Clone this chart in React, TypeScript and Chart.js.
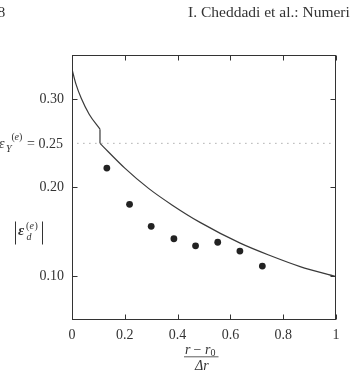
import React, { useEffect, useRef } from "react";
import { Chart, registerables } from "chart.js";

Chart.register(...registerables);

// ---- data ----
const xTickValues = [0, 0.2, 0.4, 0.6, 0.8, 1];
const yTickValues = [0.1, 0.2, 0.3];
const yieldThreshold = 0.25;
const thresholdX = [0.02, 1];

const upperX = [0, 0.015, 0.035, 0.065, 0.106];
const upperY = [0.334, 0.317, 0.301, 0.283, 0.266];
const jumpX = [0.106, 0.106];
const jumpY = [0.266, 0.25];
const lowerX = [0.106, 0.2, 0.29, 0.38, 0.485, 0.637, 0.75, 0.864, 1.0];
const lowerY = [0.25, 0.222, 0.199, 0.18, 0.1605, 0.137, 0.123, 0.1105, 0.099];
const dotX = [0.132, 0.218, 0.3, 0.386, 0.468, 0.552, 0.636, 0.721];
const dotY = [0.222, 0.181, 0.156, 0.142, 0.134, 0.138, 0.128, 0.111];

const headerPage = "8";
const headerTitle = "I. Cheddadi et al.: Numeri";

const SERIF = '"Liberation Serif", "DejaVu Serif", serif';
const INK = "#333";

const zip = (xs: number[], ys: number[]) => xs.map((x, i) => ({ x, y: ys[i] }));

const decorPlugin = {
  id: "decor",
  afterDraw(chart: any) {
    const ctx = chart.ctx as CanvasRenderingContext2D;
    const { left, right, top, bottom } = chart.chartArea;
    const xs = chart.scales.x;
    const ys = chart.scales.y;
    ctx.save();
    ctx.strokeStyle = INK;
    ctx.lineWidth = 1;
    // frame
    const L = Math.round(left) + 0.5, R = Math.round(right) - 0.5;
    const T = Math.round(top) + 0.5, B = Math.round(bottom) - 0.5;
    ctx.strokeRect(L, T, R - L, B - T);
    // inward ticks on all sides
    const tl = 5;
    ctx.beginPath();
    xTickValues.forEach((v) => {
      const px = Math.round(xs.getPixelForValue(v)) + 0.5;
      ctx.moveTo(px, B); ctx.lineTo(px, B - tl);
      ctx.moveTo(px, T); ctx.lineTo(px, T + tl);
    });
    yTickValues.forEach((v) => {
      const py = Math.round(ys.getPixelForValue(v)) + 0.5;
      ctx.moveTo(L, py); ctx.lineTo(L + tl, py);
      ctx.moveTo(R, py); ctx.lineTo(R - tl, py);
    });
    ctx.stroke();

    ctx.fillStyle = INK;
    ctx.textAlign = "left";
    ctx.textBaseline = "alphabetic";

    // header
    ctx.font = `15.5px ${SERIF}`;
    ctx.fillText(headerPage, -2.5, 16.5);
    ctx.fillText(headerTitle, 188, 16.5);

    // threshold label  eps_Y^(e) = 0.25
    const yThr = ys.getPixelForValue(yieldThreshold);
    const base = yThr + 5;
    ctx.font = `italic 14px ${SERIF}`;
    ctx.fillText("\u03B5", -1, base);
    ctx.font = `italic 10px ${SERIF}`;
    ctx.fillText("Y", 6, base + 3.5);
    ctx.font = `10px ${SERIF}`;
    ctx.fillText("(", 11.5, base - 8.5);
    ctx.font = `italic 10px ${SERIF}`;
    ctx.fillText("e", 14.5, base - 8.5);
    ctx.font = `10px ${SERIF}`;
    ctx.fillText(")", 19, base - 8.5);
    ctx.font = `14px ${SERIF}`;
    ctx.fillText("= " + yieldThreshold.toFixed(2), 27, base);

    // y title |eps_d^(e)|
    ctx.beginPath();
    ctx.moveTo(15.5, 221.5); ctx.lineTo(15.5, 244.5);
    ctx.moveTo(42.5, 221.5); ctx.lineTo(42.5, 244.5);
    ctx.stroke();
    ctx.font = `bold italic 15px ${SERIF}`;
    ctx.fillText("\u03B5", 18, 235);
    ctx.font = `italic 10px ${SERIF}`;
    ctx.fillText("d", 26.5, 239.5);
    ctx.font = `10px ${SERIF}`;
    ctx.fillText("(", 26, 228.5);
    ctx.font = `italic 10px ${SERIF}`;
    ctx.fillText("e", 29.5, 228.5);
    ctx.font = `10px ${SERIF}`;
    ctx.fillText(")", 34.5, 228.5);

    // x title (r - r0) / Δr
    ctx.font = `italic 14px ${SERIF}`;
    ctx.fillText("r", 185, 353.5);
    ctx.font = `14px ${SERIF}`;
    ctx.fillText("\u2212", 193.5, 353.5);
    ctx.font = `italic 14px ${SERIF}`;
    ctx.fillText("r", 205, 353.5);
    ctx.font = `10px ${SERIF}`;
    ctx.fillText("0", 210.5, 355.5);
    ctx.lineWidth = 0.8;
    ctx.beginPath();
    ctx.moveTo(184, 356.8); ctx.lineTo(218.5, 356.8);
    ctx.stroke();
    ctx.font = `italic 14px ${SERIF}`;
    ctx.fillText("\u0394r", 195, 370);
    ctx.restore();
  },
};

export default function App() {
  const ref = useRef<HTMLCanvasElement | null>(null);
  useEffect(() => {
    if (!ref.current) return;
    const lineBase = {
      showLine: true,
      pointRadius: 0,
      borderColor: "#3a3a3a",
      borderWidth: 1.2,
      fill: false,
    };
    const chart = new Chart(ref.current, {
      type: "scatter",
      data: {
        datasets: [
          {
            ...lineBase,
            data: zip(thresholdX, thresholdX.map(() => yieldThreshold)),
            borderColor: "#999",
            borderWidth: 1,
            borderDash: [1.2, 4.8],
          },
          { ...lineBase, data: zip(upperX, upperY), cubicInterpolationMode: "monotone" },
          { ...lineBase, data: zip(jumpX, jumpY) },
          { ...lineBase, data: zip(lowerX, lowerY), cubicInterpolationMode: "monotone" },
          {
            data: zip(dotX, dotY),
            showLine: false,
            pointRadius: 3.4,
            pointBackgroundColor: "#222",
            pointBorderColor: "#222",
            pointBorderWidth: 0,
          },
        ] as any,
      },
      options: {
        responsive: false,
        animation: false,
        events: [],
        layout: { padding: { left: 0, top: 55, right: 14, bottom: 0 } },
        plugins: { legend: { display: false }, tooltip: { enabled: false } },
        scales: {
          x: {
            type: "linear",
            min: 0,
            max: 1,
            afterBuildTicks: (s: any) => {
              s.ticks = xTickValues.map((v) => ({ value: v }));
            },
            afterFit: (s: any) => {
              s.height = 61;
            },
            grid: { display: false, drawTicks: false },
            border: { display: false },
            ticks: {
              padding: 7,
              maxRotation: 0,
              autoSkip: false,
              color: INK,
              font: { family: SERIF, size: 14 },
              callback: (v: any) => (v === 0 || v === 1 ? String(v) : Number(v).toFixed(1)),
            },
          },
          y: {
            type: "linear",
            min: 0.05,
            max: 0.35,
            afterBuildTicks: (s: any) => {
              s.ticks = yTickValues.map((v) => ({ value: v }));
            },
            afterFit: (s: any) => {
              s.width = 72;
            },
            grid: { display: false, drawTicks: false },
            border: { display: false },
            ticks: {
              padding: 8,
              autoSkip: false,
              color: INK,
              font: { family: SERIF, size: 14 },
              callback: (v: any) => Number(v).toFixed(2),
            },
          },
        },
      } as any,
      plugins: [decorPlugin],
    });
    return () => chart.destroy();
  }, []);
  return (
    <div style={{ position: "absolute", left: 0, top: 0, width: 350, height: 381, background: "#fff" }}>
      <canvas ref={ref} width={350} height={381} style={{ display: "block" }} />
    </div>
  );
}
